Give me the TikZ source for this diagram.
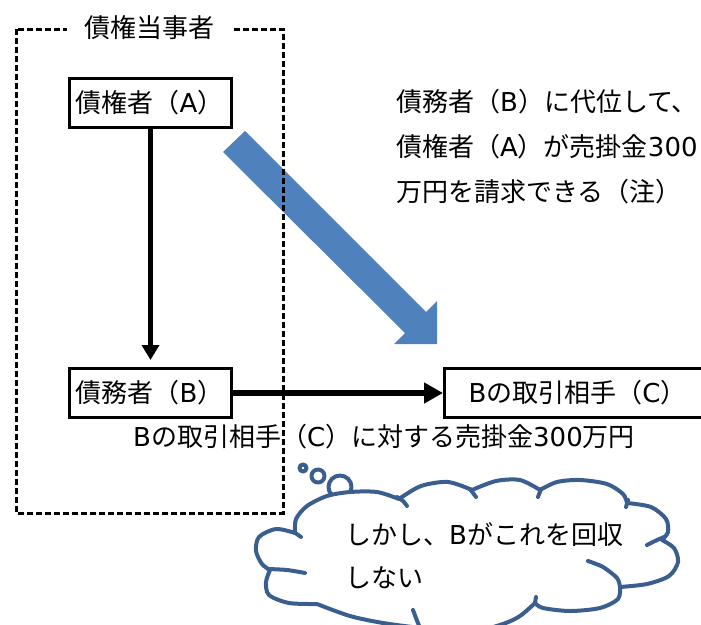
\documentclass[tikz,border=0pt]{standalone}
\usepackage{fontspec}
\setmainfont{Noto Sans CJK JP}
\newfontfamily\latinf{DejaVu Sans}
\newcommand{\lt}[1]{{\latinf #1}}
\usetikzlibrary{arrows.meta}
\definecolor{arrowblue}{HTML}{4F81BD}
\definecolor{cloudblue}{HTML}{3A5F8E}
\tikzset{
  txt/.style={font=\fontsize{26pt}{30pt}\selectfont, inner sep=0pt},
  boxnode/.style={draw, fill=white, line width=3pt, font=\fontsize{26pt}{30pt}\selectfont,
    minimum height=49pt, align=left, inner ysep=0pt},
  dashedframe/.style={line width=3pt, dash pattern=on 6pt off 3pt},
  cloudline/.style={draw=cloudblue, line width=4pt, line join=round, line cap=round},
}
\begin{document}
\begin{tikzpicture}[x=1pt,y=-1pt]
\useasboundingbox (0,0) rectangle (701,624);
% blue block arrow
\fill[arrowblue] (245,131) -- (426,312) -- (437,301) -- (437,344) -- (394,344) -- (405,333) -- (223,152) -- cycle;
% dashed frame
\draw[dashedframe] (16,29) rectangle (283,513);
\node[txt, fill=white, inner xsep=17pt, inner ysep=4pt, anchor=base] (title) at (149,37) {債権当事者};
% boxes
\node[boxnode, anchor=north west, text width=150pt, inner xsep=6pt] (A) at (68,77) {債権者（\lt{A}）};
\node[boxnode, anchor=north west, text width=150pt, inner xsep=6pt] (B) at (68,367) {債務者（\lt{B}）};
\node[boxnode, anchor=north west, text width=300pt, inner xsep=24pt] (C) at (443,367) {\lt{B}の取引相手（\lt{C}）};
% connectors
\draw[line width=4.5pt, -{Triangle[length=15pt,width=17pt]}, shorten >=7pt] (A.south) -- (B.north);
\draw[line width=6pt, -{Triangle[length=19pt,width=20pt]}] (B.east) -- (C.west);
% labels
\node[txt, anchor=base west] (lab) at (133,446) {\lt{B}の取引相手（\lt{C}）に対する売掛金\lt{300}万円};
\node[txt, anchor=base west] (r1) at (396,111) {債務者（\lt{B}）に代位して、};
\node[txt, anchor=base west] (r2) at (396,156) {債権者（\lt{A}）が売掛金\lt{300}};
\node[txt, anchor=base west] (r3) at (396,201) {万円を請求できる（注）};
% thought bubbles
\draw[cloudline, fill=white] (303,468) circle[radius=3.5];
\draw[cloudline, fill=white] (318,476) circle[radius=6.5];
\draw[cloudline, fill=white] (340,487) circle[radius=11.5];
% cloud
\draw[cloudline, fill=white]
  plot[smooth] coordinates {(270,570) (262,564) (256,551) (259,537) (276,529) (295,533)}
  -- plot[smooth] coordinates {(295,533) (296,519) (307,506) (327,496) (350,492) (377,492) (399,499)}
  -- plot[smooth] coordinates {(399,499) (421,486) (448,482) (472,490)}
  -- plot[smooth] coordinates {(472,490) (496,481) (520,480) (540,490)}
  -- plot[smooth] coordinates {(540,490) (557,482) (580,480) (607,484) (623,494) (627,503)}
  -- plot[smooth] coordinates {(627,503) (651,507) (666,519) (668,532) (662,540)}
  -- plot[smooth] coordinates {(662,540) (674,548) (678,562) (669,576) (647,584) (620,587)}
  -- plot[smooth] coordinates {(620,587) (618,599) (600,608) (570,611) (543,608) (535,603)}
  -- plot[smooth] coordinates {(535,603) (520,616) (503,624) (470,633) (440,635) (420,628)}
  -- plot[smooth] coordinates {(420,628) (383,623) (350,616) (317,604)}
  -- plot[smooth] coordinates {(317,604) (289,603) (269,595) (266,582) (270,570)}
  -- cycle;
% inner stubs
\draw[cloudline] plot[smooth] coordinates {(268,569) (287,570) (305,573)};
\draw[cloudline] (294,532) -- (301,537);
\draw[cloudline] plot[smooth] coordinates {(397,497) (403,501) (407,506)};
\draw[cloudline] (470,489) -- (476,497);
\draw[cloudline] (541,489) -- (538,497);
\draw[cloudline] (628,500) -- (626,507);
\draw[cloudline] plot[smooth] coordinates {(664,537) (655,541) (647,545)};
\draw[cloudline] plot[smooth] coordinates {(620,587) (617,578) (603,567) (588,561)};
\draw[cloudline] (535,603) -- (536,597);
\draw[cloudline] plot[smooth] coordinates {(420,628) (416,618) (413,610)};
% cloud text
\node[txt, anchor=base west] (c1) at (345,544) {しかし、\lt{B}がこれを回収};
\node[txt, anchor=base west] (c2) at (345,587) {しない};
\end{tikzpicture}
\end{document}
